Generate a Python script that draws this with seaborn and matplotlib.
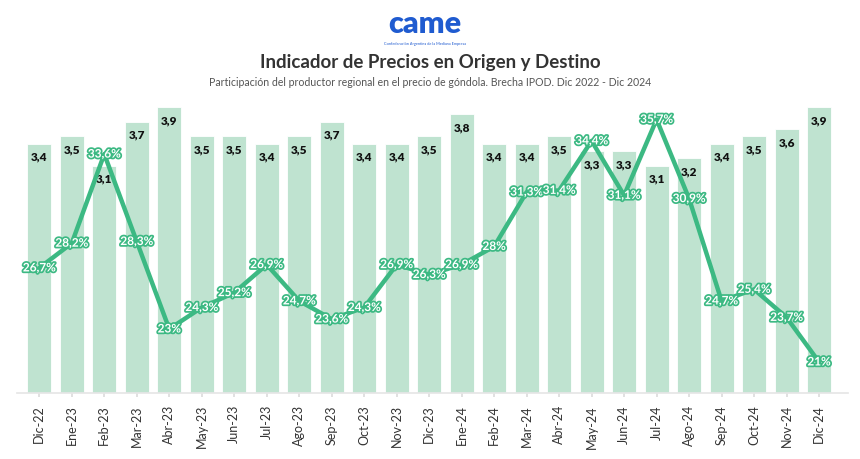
import matplotlib
matplotlib.use("Agg")
import matplotlib.pyplot as plt
import matplotlib.patheffects as pe
import numpy as np
import seaborn as sns

# data
meses = ["Dic-22", "Ene-23", "Feb-23", "Mar-23", "Abr-23", "May-23", "Jun-23", "Jul-23",
         "Ago-23", "Sep-23", "Oct-23", "Nov-23", "Dic-23", "Ene-24", "Feb-24", "Mar-24",
         "Abr-24", "May-24", "Jun-24", "Jul-24", "Ago-24", "Sep-24", "Oct-24", "Nov-24", "Dic-24"]
brecha = [3.4, 3.5, 3.1, 3.7, 3.9, 3.5, 3.5, 3.4, 3.5, 3.7, 3.4, 3.4, 3.5,
          3.8, 3.4, 3.4, 3.5, 3.3, 3.3, 3.1, 3.2, 3.4, 3.5, 3.6, 3.9]
participacion = [26.7, 28.2, 33.6, 28.3, 23, 24.3, 25.2, 26.9, 24.7, 23.6, 24.3, 26.9, 26.3,
                 26.9, 28, 31.3, 31.4, 34.4, 31.1, 35.7, 30.9, 24.7, 25.4, 23.7, 21]

BAR_COLOR = "#bfe3d0"
LINE_COLOR = "#3cb983"

sns.set_theme(style="white")
plt.rcParams["font.family"] = ["Lato", "DejaVu Sans"]

fig = plt.figure(figsize=(8.6, 4.6), dpi=100)
ax = fig.add_axes([0.02, 0.1435, 0.966, 0.6391])
pos = np.arange(len(meses))

sns.barplot(x=pos, y=brecha, color=BAR_COLOR, saturation=1, width=0.74, ax=ax,
            native_scale=True, edgecolor="white", linewidth=0.6)
ax.set_ylim(0, 4.01)
ax.set_xlim(-0.68, len(meses) - 1 + 0.89)
ax.set_xticks(pos)
ax.set_xticklabels(meses, rotation=90, fontsize=9, color="#333333")
ax.tick_params(axis="x", length=3, color="#dddddd", pad=5, bottom=True)
ax.set_yticks([])
for s in ["top", "left", "right"]:
    ax.spines[s].set_visible(False)
ax.spines["bottom"].set_color("#e6e6e6")

def fmt(v):
    s = f"{v:.1f}".replace(".", ",")
    return s[:-2] if s.endswith(",0") else s

for x, v in zip(pos, brecha):
    ax.annotate(fmt(v), (x, v), xytext=(0, -5), textcoords="offset points",
                ha="center", va="top", fontsize=8.5, fontweight="heavy", color="#111111")

ax2 = ax.twinx()
sns.lineplot(x=pos, y=participacion, color=LINE_COLOR, linewidth=3.2, ax=ax2)
ax2.set_ylim(19.12, 36.94)
ax2.set_yticks([])
for s in ["top", "left", "right", "bottom"]:
    ax2.spines[s].set_visible(False)
ax2.set_ylabel("")

for x, v in zip(pos, participacion):
    t = ax2.text(x, v, fmt(v) + "%", ha="center", va="center", fontsize=8.5,
                 fontweight="bold", color="white", zorder=5)
    t.set_path_effects([pe.Stroke(linewidth=2.5, foreground=LINE_COLOR), pe.Normal()])

# header
fig.text(0.494, 0.948, "came", ha="center", va="center", fontsize=22, fontweight="heavy",
         color="#1f5bd0")
fig.text(0.494, 0.905, "Confederación Argentina de la Mediana Empresa", ha="center",
         va="center", fontsize=2.8, color="#1f5bd0")
fig.text(0.5, 0.864, "Indicador de Precios en Origen y Destino", ha="center", va="center",
         fontsize=13.5, fontweight="bold", color="#333333")
fig.text(0.5, 0.82, "Participación del productor regional en el precio de góndola. Brecha IPOD. Dic 2022 - Dic 2024",
         ha="center", va="center", fontsize=7.6, color="#555555")

fig.savefig("out.png", dpi=100)
